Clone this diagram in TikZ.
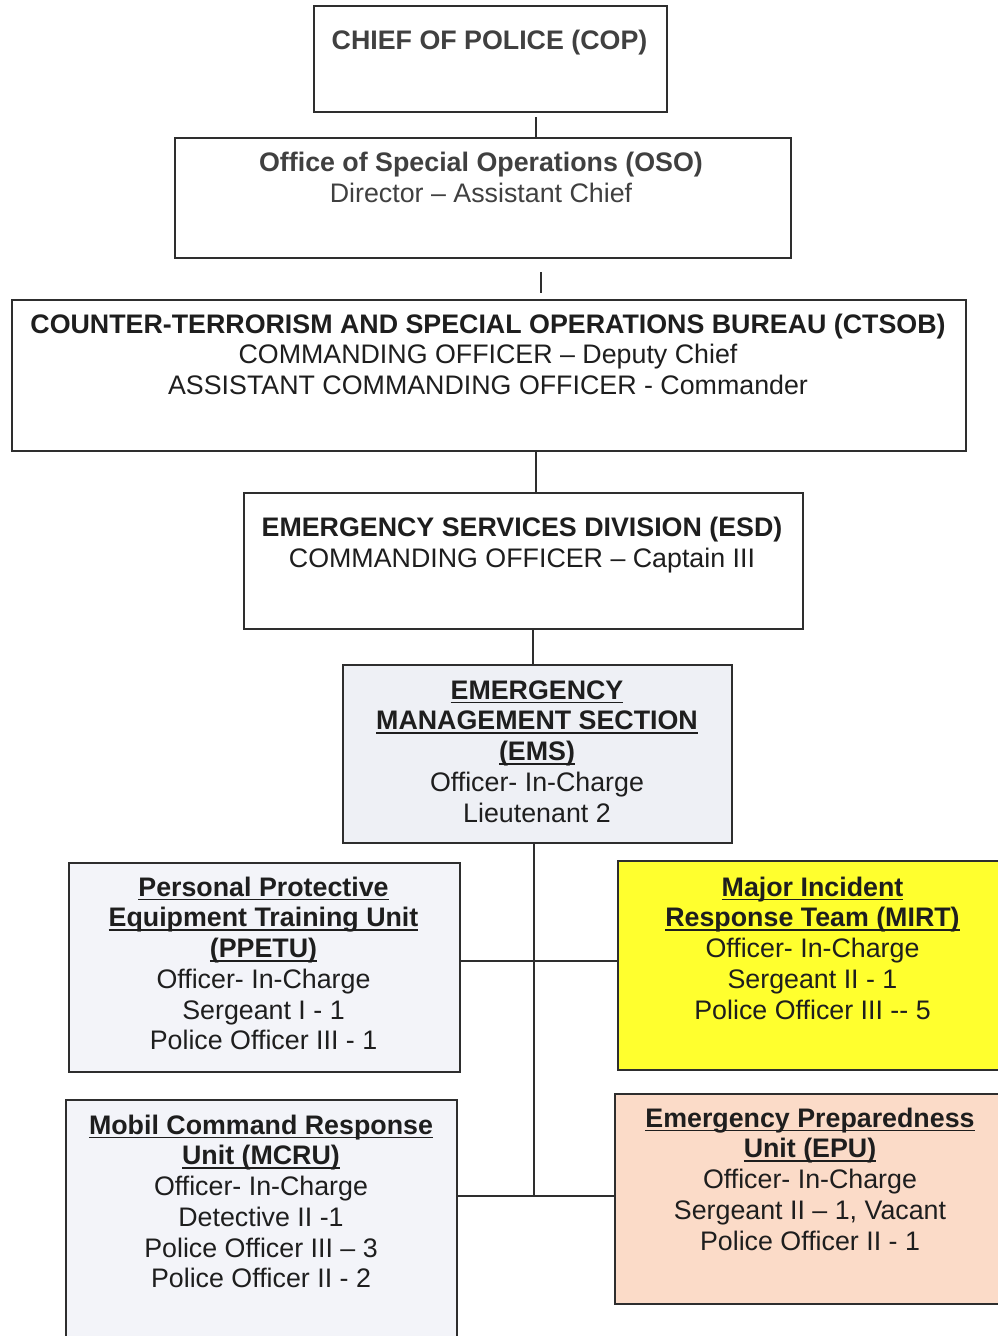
\documentclass[tikz,border=0pt]{standalone}
\usepackage{fontspec}
\setmainfont{Liberation Sans}
\newcommand{\myul}[1]{\setbox0\hbox{#1}\rlap{\rule[-4.2pt]{\wd0}{1.9pt}}\box0}
\definecolor{linec}{HTML}{2E2E2E}
\definecolor{txtc}{HTML}{1E1E1E}
\definecolor{txtg}{HTML}{404040}
\definecolor{greyf}{HTML}{EEF0F5}
\definecolor{lightf}{HTML}{F3F4F9}
\definecolor{yellowf}{HTML}{FFFF2E}
\definecolor{peachf}{HTML}{FBDBC8}
\begin{document}
\begin{tikzpicture}[x=1pt,y=-1pt,
  box/.style 2 args={draw=linec, line width=2.3pt, anchor=north west, inner sep=0pt,
    minimum width=#1pt, minimum height=#2pt},
  txt/.style={anchor=north, inner sep=0pt, align=center, text=txtc,
    font=\fontsize{26.8}{30.7}\selectfont},
  conn/.style={draw=linec, line width=2pt}]
\clip (0,0) rectangle (998,1336);
\fill[white] (0,0) rectangle (998,1336);

% boxes
\node[box={353}{106}] (cop) at (313,5) {};
\node[box={616}{120}] (oso) at (174,137) {};
\node[box={954}{151}] (ctsob) at (11,299) {};
\node[box={559}{136}] (esd) at (243,492) {};
\node[box={389}{178}, fill=greyf] (ems) at (342,664) {};
\node[box={391}{209}, fill=lightf] (ppetu) at (68,862) {};
\node[box={391}{209}, fill=yellowf] (mirt) at (617,860) {};
\node[box={391}{251}, fill=lightf] (mcru) at (65,1099) {};
\node[box={392}{210}, fill=peachf] (epu) at (614,1093) {};

% texts
\node[txt, text=txtg] (copt) at (489.5,28) {\strut\textbf{CHIEF OF POLICE (COP)}};
\node[txt, text=txtg] (osot) at (481,150) {\strut\textbf{Office of Special Operations (OSO)}\\Director – Assistant Chief};
\node[txt] (ctsobt) at (488,311.5) {\strut\textbf{COUNTER-TERRORISM AND SPECIAL OPERATIONS BUREAU (CTSOB)}\\COMMANDING OFFICER – Deputy Chief\\ASSISTANT COMMANDING OFFICER - Commander};
\node[txt] (esdt) at (522,515) {\strut\textbf{EMERGENCY SERVICES DIVISION (ESD)}\\COMMANDING OFFICER – Captain III};
\node[txt] (emst) at (537,677.5) {\strut\myul{\textbf{EMERGENCY}}\\\myul{\textbf{MANAGEMENT SECTION}}\\\myul{\textbf{(EMS)}}\\Officer- In-Charge\\Lieutenant 2};
\node[txt] (ppetut) at (263.5,874.5) {\strut\myul{\textbf{Personal Protective}}\\\myul{\textbf{Equipment Training Unit}}\\\myul{\textbf{(PPETU)}}\\Officer- In-Charge\\Sergeant I - 1\\Police Officer III - 1};
\node[txt] (mirtt) at (812.5,874.5) {\strut\myul{\textbf{Major Incident}}\\\myul{\textbf{Response Team (MIRT)}}\\Officer- In-Charge\\Sergeant II - 1\\Police Officer III -{}- 5};
\node[txt] (mcrut) at (261,1112.5) {\strut\myul{\textbf{Mobil Command Response}}\\\myul{\textbf{Unit (MCRU)}}\\Officer- In-Charge\\Detective II -1\\Police Officer III – 3\\Police Officer II - 2};
\node[txt] (eput) at (810,1105.5) {\strut\myul{\textbf{Emergency Preparedness}}\\\myul{\textbf{Unit (EPU)}}\\Officer- In-Charge\\Sergeant II – 1, Vacant\\Police Officer II - 1};

% connector coordinates
\coordinate (c1) at (536,117);
\coordinate (c2a) at (541,272);
\coordinate (c2b) at (541,293);
\coordinate (c3) at (536,0);
\coordinate (c4) at (533,0);
\coordinate (trunk) at (534,0);
\coordinate (h1) at (534,961);
\coordinate (h2) at (534,1196);

\draw[conn] (c1) -- (c1 |- oso.north);
\draw[conn] (c2a) -- (c2b);
\draw[conn] (ctsob.south -| c3) -- (esd.north -| c3);
\draw[conn] (esd.south -| c4) -- (ems.north -| c4);
\draw[conn] (ems.south -| trunk) -- (h2);
\draw[conn] (ppetu.east |- h1) -- (mirt.west |- h1);
\draw[conn] (mcru.east |- h2) -- (epu.west |- h2);
\end{tikzpicture}
\end{document}
